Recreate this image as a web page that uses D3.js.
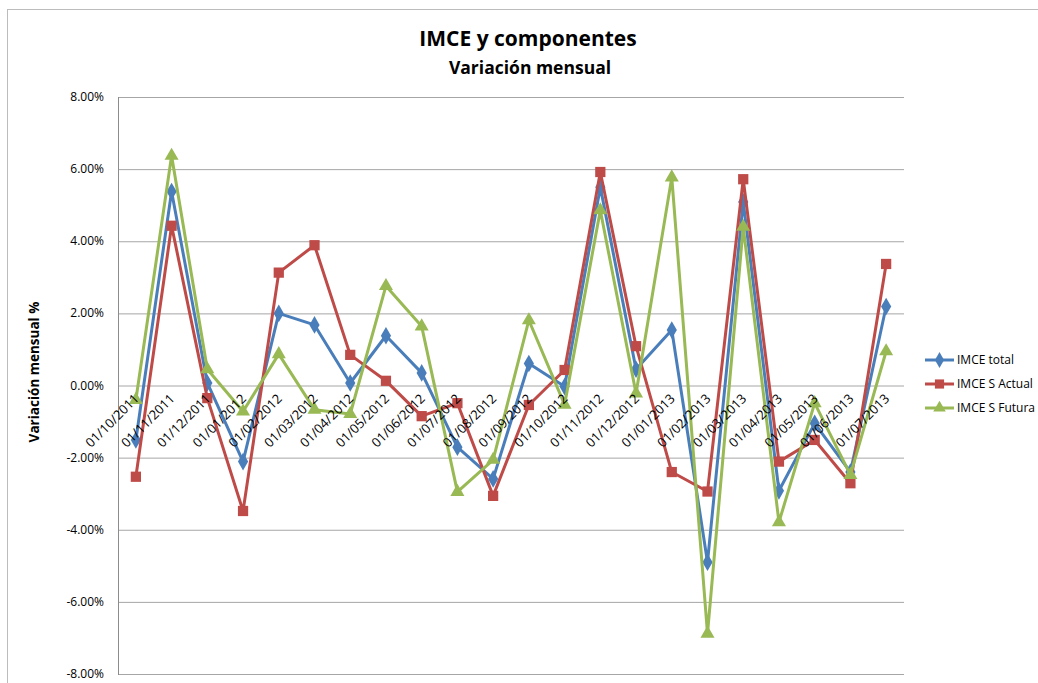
<!DOCTYPE html>
<html>
<head>
<meta charset="utf-8">
<script src="https://cdn.jsdelivr.net/npm/d3@7"></script>
<style>
body{margin:0;background:#fff;}
text{font-family:"Open Sans","Noto Sans",sans-serif;fill:#000;}
</style>
</head>
<body>
<div id="chart"></div>
<script>
// meses (categorias)
const months=["01/10/2011","01/11/2011","01/12/2011","01/01/2012","01/02/2012","01/03/2012","01/04/2012","01/05/2012","01/06/2012","01/07/2012","01/08/2012","01/09/2012","01/10/2012","01/11/2012","01/12/2012","01/01/2013","01/02/2013","01/03/2013","01/04/2013","01/05/2013","01/06/2013","01/07/2013"];
// valores en %
const imceTotal=[-1.51,5.38,0.07,-2.11,2.00,1.68,0.07,1.38,0.35,-1.71,-2.59,0.61,-0.03,5.50,0.45,1.54,-4.90,5.09,-2.92,-1.05,-2.40,2.19];
const imceActual=[-2.53,4.43,-0.35,-3.48,3.13,3.89,0.85,0.13,-0.85,-0.49,-3.06,-0.54,0.43,5.92,1.09,-2.40,-2.94,5.72,-2.11,-1.51,-2.71,3.37];
const imceFutura=[-0.40,6.37,0.45,-0.72,0.87,-0.67,-0.79,2.76,1.64,-2.95,-2.06,1.81,-0.53,4.86,-0.22,5.77,-6.88,4.40,-3.79,-0.49,-2.48,0.95];
const yTicks=[8,6,4,2,0,-2,-4,-6,-8];

const series=[
  {name:"IMCE total",values:imceTotal,color:"#4a7ebb",shape:d3.symbolDiamond,size:90},
  {name:"IMCE S Actual",values:imceActual,color:"#be4b48",shape:d3.symbolSquare,size:105},
  {name:"IMCE S Futura",values:imceFutura,color:"#98b954",shape:d3.symbolTriangle,size:85}
];

const width=1038, height=683;
const svg=d3.select("#chart").append("svg")
  .attr("width",width).attr("height",height);

// borde del area del grafico
svg.append("rect")
  .attr("x",7.5).attr("y",9.5).attr("width",1040).attr("height",690)
  .attr("fill","#fff").attr("stroke","#bcbcbc");

const plot={left:118,top:97,right:904,bottom:674};

const x=d3.scaleBand().domain(months).range([plot.left,plot.right]);
const y=d3.scaleLinear().domain([-8,8]).range([plot.bottom,plot.top]);

// gridlines
svg.append("g").selectAll("line").data(yTicks).join("line")
  .attr("x1",plot.left).attr("x2",plot.right)
  .attr("y1",d=>y(d)+0.5).attr("y2",d=>y(d)+0.5)
  .attr("stroke","#a6a6a6").attr("stroke-width",1);

// eje vertical
svg.append("line")
  .attr("x1",plot.left+0.5).attr("x2",plot.left+0.5)
  .attr("y1",plot.top).attr("y2",plot.bottom+1)
  .attr("stroke","#8c8c8c");

// etiquetas eje y
svg.append("g").selectAll("text").data(yTicks).join("text")
  .attr("x",plot.left-14).attr("y",d=>y(d)+4)
  .attr("text-anchor","end").attr("font-size",12)
  .text(d=>d.toFixed(2)+"%");

svg.append("text")
  .attr("transform","translate(39,372) rotate(-90)")
  .attr("text-anchor","middle").attr("font-size",13.5).attr("font-weight","bold")
  .text("Variación mensual %");

// lineas
const line=d3.line()
  .x((d,i)=>x(months[i])+x.bandwidth()/2)
  .y(d=>y(d));

series.forEach(s=>{
  svg.append("path").datum(s.values)
    .attr("d",line).attr("fill","none")
    .attr("stroke",s.color).attr("stroke-width",3)
    .attr("stroke-linejoin","round");
  svg.append("g").selectAll("path").data(s.values).join("path")
    .attr("transform",(d,i)=>"translate("+(x(months[i])+x.bandwidth()/2)+","+y(d)+")")
    .attr("d",d3.symbol().type(s.shape).size(s.size))
    .attr("fill",s.color);
});

// etiquetas eje x (junto al 0)
svg.append("g").selectAll("text").data(months).join("text")
  .attr("transform",d=>"translate("+(x(d)+x.bandwidth()/2+4)+","+(y(0)+14)+") rotate(-45)")
  .attr("text-anchor","end").attr("font-size",13)
  .text(d=>d);

// titulo
svg.append("text").attr("x",528).attr("y",46)
  .attr("text-anchor","middle").attr("font-size",21).attr("font-weight","bold")
  .text("IMCE y componentes");
svg.append("text").attr("x",530).attr("y",74)
  .attr("text-anchor","middle").attr("font-size",17.5).attr("font-weight","bold")
  .text("Variación mensual");

// leyenda
const legend=svg.append("g").attr("transform","translate(925,360)");
series.forEach((s,i)=>{
  const g=legend.append("g").attr("transform","translate(0,"+(i*24)+")");
  g.append("line").attr("x1",0).attr("x2",29).attr("y1",0).attr("y2",0)
    .attr("stroke",s.color).attr("stroke-width",3);
  g.append("path").attr("transform","translate(14.5,0)")
    .attr("d",d3.symbol().type(s.shape).size(s.size*0.8)).attr("fill",s.color);
  g.append("text").attr("x",32).attr("y",4).attr("font-size",12).text(s.name);
});
</script>
</body>
</html>
